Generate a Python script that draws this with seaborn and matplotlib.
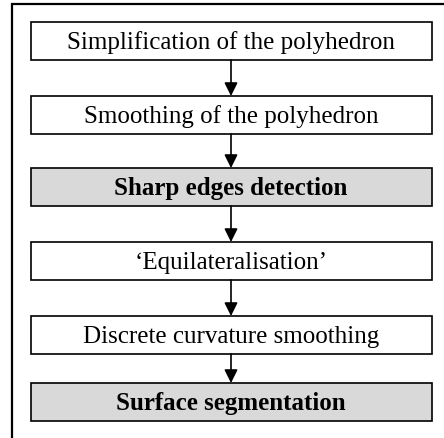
import matplotlib
matplotlib.use("Agg")
import matplotlib.pyplot as plt
from matplotlib.patches import Rectangle
import seaborn as sns

# --- data: flowchart steps ---
steps = [
    "Simplification of the polyhedron",
    "Smoothing of the polyhedron",
    "Sharp edges detection",
    "\u2018Equilateralisation\u2019",
    "Discrete curvature smoothing",
    "Surface segmentation",
]
highlighted = [False, False, True, False, False, True]
box_tops = [23, 97, 169, 243, 317, 384]

sns.set_theme(style="white")
plt.rcParams['font.family'] = ['Liberation Serif', 'DejaVu Serif']

fig = plt.figure(figsize=(4.44, 4.39), dpi=100)
ax = fig.add_axes([0, 0, 1, 1])
ax.set_xlim(0, 444)
ax.set_ylim(439, 0)
ax.axis("off")

# frame: top and left lines only
ax.plot([12, 12, 444], [439, 5, 5], color="black", lw=1.6,
        solid_capstyle="butt", solid_joinstyle="miter")

x0, x1 = 31, 432
h = 38
xc = (x0 + x1) / 2 - 0.5
for i, (label, hl, top) in enumerate(zip(steps, highlighted, box_tops)):
    ax.add_patch(Rectangle((x0, top), x1 - x0, h, facecolor="#d9d9d9" if hl else "white",
                           edgecolor="black", lw=1.2))
    ax.text(xc, top + h / 2 + 1, label, ha="center", va="center", fontsize=18,
            fontweight="bold" if hl else "normal", color="black")
    if i < len(steps) - 1:
        ax.annotate("", xy=(xc, box_tops[i + 1]), xytext=(xc, top + h),
                    arrowprops=dict(arrowstyle="-|>", color="black", lw=1.2,
                                    mutation_scale=20, shrinkA=0, shrinkB=0))

fig.savefig("out.png", dpi=100)
